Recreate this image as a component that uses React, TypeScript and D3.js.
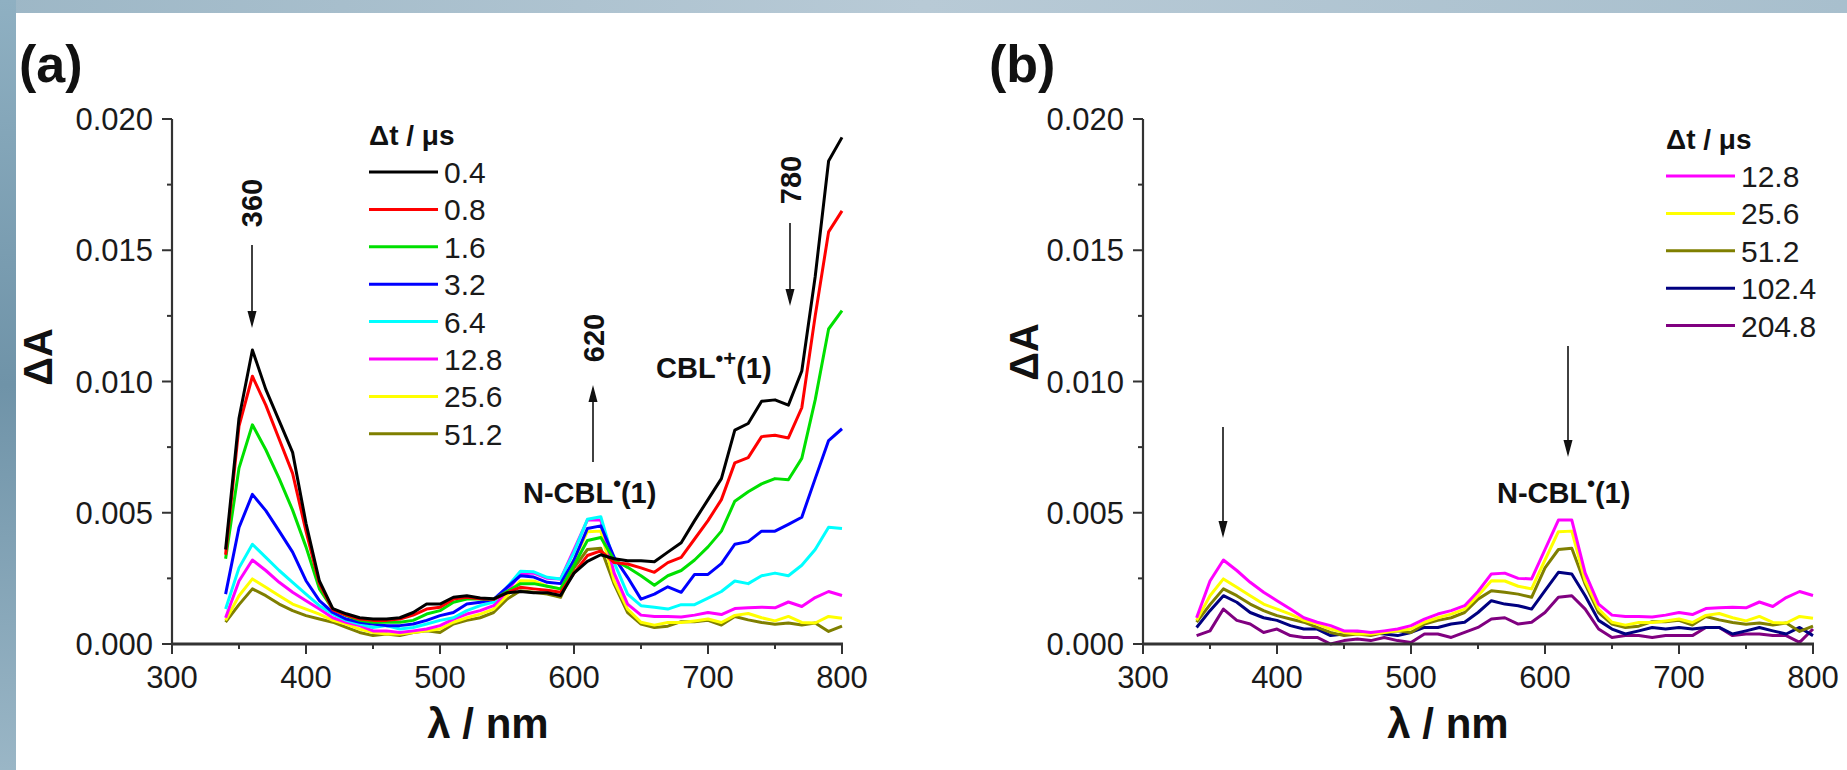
import React from "react";
import * as d3 from "d3";

// ---------- data (ΔA in units of 0.001) ----------
const wavelengths = [340, 350, 360, 370, 380, 390, 400, 410, 420, 430, 440, 450, 460, 470, 480, 490, 500, 510, 520, 530, 540, 550, 560, 570, 580, 590, 600, 610, 620, 630, 640, 650, 660, 670, 680, 690, 700, 710, 720, 730, 740, 750, 760, 770, 780, 790, 800];

const s0_4 = [3.6, 8.6, 11.2, 9.7, 8.5, 7.3, 4.6, 2.4, 1.35, 1.15, 1.0, 0.95, 0.95, 1.0, 1.2, 1.52, 1.52, 1.78, 1.84, 1.75, 1.72, 1.95, 2.0, 1.95, 1.95, 1.85, 2.7, 3.15, 3.4, 3.25, 3.17, 3.17, 3.13, 3.5, 3.86, 4.7, 5.5, 6.3, 8.15, 8.4, 9.25, 9.3, 9.1, 10.4, 14.0, 18.4, 19.3];
const s0_8 = [3.4, 8.3, 10.2, 9.1, 7.8, 6.5, 4.3, 2.3, 1.3, 1.1, 0.95, 0.9, 0.9, 0.95, 1.1, 1.33, 1.4, 1.71, 1.78, 1.72, 1.7, 1.95, 2.16, 2.1, 2.05, 1.97, 2.7, 3.37, 3.55, 3.1, 3.05, 2.9, 2.73, 3.1, 3.3, 4.0, 4.7, 5.5, 6.9, 7.1, 7.9, 7.95, 7.85, 9.0, 12.5, 15.7, 16.5];
const s1_6 = [3.25, 6.7, 8.35, 7.4, 6.3, 5.1, 3.7, 2.1, 1.33, 1.08, 0.9, 0.83, 0.83, 0.83, 0.9, 1.14, 1.27, 1.59, 1.71, 1.71, 1.7, 2.0, 2.3, 2.3, 2.2, 2.1, 3.0, 3.94, 4.06, 3.2, 2.92, 2.6, 2.24, 2.6, 2.8, 3.2, 3.7, 4.3, 5.44, 5.8, 6.1, 6.3, 6.26, 7.07, 9.3, 12.0, 12.7];
const s3_2 = [1.9, 4.44, 5.7, 5.08, 4.3, 3.5, 2.41, 1.65, 1.2, 0.95, 0.83, 0.76, 0.7, 0.7, 0.76, 0.9, 1.08, 1.2, 1.52, 1.59, 1.7, 2.16, 2.6, 2.55, 2.35, 2.3, 3.2, 4.4, 4.5, 3.3, 2.54, 1.71, 1.9, 2.18, 1.97, 2.65, 2.65, 3.06, 3.8, 3.9, 4.3, 4.3, 4.56, 4.83, 6.3, 7.75, 8.2];
const s6_4 = [1.33, 2.9, 3.8, 3.3, 2.8, 2.35, 1.9, 1.46, 1.14, 0.9, 0.76, 0.63, 0.7, 0.57, 0.63, 0.76, 0.9, 1.0, 1.27, 1.46, 1.6, 2.16, 2.77, 2.75, 2.54, 2.48, 3.5, 4.75, 4.85, 3.1, 1.9, 1.46, 1.4, 1.33, 1.5, 1.5, 1.75, 2.0, 2.4, 2.3, 2.6, 2.7, 2.6, 3.0, 3.6, 4.45, 4.4];
const s12_8 = [1.0, 2.4, 3.2, 2.8, 2.35, 1.97, 1.65, 1.33, 1.0, 0.83, 0.7, 0.5, 0.5, 0.44, 0.5, 0.57, 0.7, 0.95, 1.14, 1.27, 1.46, 2.0, 2.67, 2.7, 2.5, 2.48, 3.6, 4.72, 4.72, 2.7, 1.52, 1.1, 1.05, 1.05, 1.03, 1.1, 1.2, 1.12, 1.35, 1.38, 1.4, 1.38, 1.6, 1.43, 1.77, 2.0, 1.85];
const s25_6 = [0.9, 1.84, 2.48, 2.16, 1.84, 1.52, 1.33, 1.14, 0.9, 0.76, 0.57, 0.44, 0.38, 0.38, 0.44, 0.5, 0.57, 0.83, 1.0, 1.14, 1.33, 1.84, 2.41, 2.4, 2.2, 2.1, 3.2, 4.28, 4.3, 2.4, 1.33, 0.83, 0.72, 0.82, 0.82, 0.88, 0.95, 0.82, 1.09, 1.16, 1.0, 0.88, 1.05, 0.82, 0.8, 1.05, 0.98];
const s51_2 = [0.83, 1.5, 2.1, 1.84, 1.52, 1.27, 1.08, 0.95, 0.83, 0.63, 0.44, 0.32, 0.38, 0.32, 0.44, 0.5, 0.44, 0.76, 0.9, 1.0, 1.2, 1.71, 2.03, 1.97, 1.9, 1.78, 2.9, 3.6, 3.65, 2.28, 1.2, 0.76, 0.63, 0.68, 0.85, 0.85, 0.9, 0.72, 1.05, 0.92, 0.82, 0.75, 0.8, 0.72, 0.8, 0.48, 0.68];
const s102_4 = [0.63, 1.27, 1.84, 1.59, 1.2, 1.0, 0.9, 0.7, 0.57, 0.57, 0.32, 0.38, 0.44, 0.44, 0.38, 0.32, 0.44, 0.63, 0.63, 0.76, 0.83, 1.2, 1.65, 1.52, 1.46, 1.33, 2.03, 2.73, 2.67, 1.84, 0.9, 0.57, 0.38, 0.5, 0.63, 0.57, 0.63, 0.57, 0.63, 0.63, 0.38, 0.5, 0.63, 0.5, 0.38, 0.63, 0.32];
const s204_8 = [0.32, 0.5, 1.33, 0.9, 0.76, 0.44, 0.57, 0.32, 0.25, 0.25, 0.0, 0.13, 0.19, 0.13, 0.25, 0.13, 0.06, 0.38, 0.38, 0.25, 0.44, 0.63, 0.95, 1.0, 0.76, 0.83, 1.2, 1.78, 1.84, 1.33, 0.57, 0.25, 0.32, 0.32, 0.25, 0.32, 0.32, 0.32, 0.63, 0.63, 0.32, 0.38, 0.38, 0.32, 0.32, 0.06, 0.57];

const labelsA = ["0.4", "0.8", "1.6", "3.2", "6.4", "12.8", "25.6", "51.2"];
const colorsA = ["#000000", "#ff0000", "#00e000", "#0000ff", "#00ffff", "#ff00ff", "#ffff00", "#7f7f00"];
const seriesA = [s0_4, s0_8, s1_6, s3_2, s6_4, s12_8, s25_6, s51_2];

const labelsB = ["12.8", "25.6", "51.2", "102.4", "204.8"];
const colorsB = ["#ff00ff", "#ffff00", "#7f7f00", "#000080", "#800080"];
const seriesB = [s12_8, s25_6, s51_2, s102_4, s204_8];

const yMajor = [0, 0.005, 0.01, 0.015, 0.02];
const yMinor = [0.0025, 0.0075, 0.0125, 0.0175];
const xMajor = [300, 400, 500, 600, 700, 800];
const xMinor = [350, 450, 550, 650, 750];

const FONT = "'Liberation Sans', Arial, Helvetica, sans-serif";
const AXIS = "#333333";
const TXT = "#1a1a1a";

function Arrow({ x, y1, y2 }: { x: number; y1: number; y2: number }) {
  // y1 = tail, y2 = tip
  const dir = y2 > y1 ? 1 : -1;
  const head = 17;
  const hw = 4.5;
  return (
    <g>
      <line x1={x} y1={y1} x2={x} y2={y2 - dir * head + dir * 2} stroke="#111" strokeWidth={1.6} />
      <path d={`M${x},${y2} L${x - hw},${y2 - dir * head} L${x + hw},${y2 - dir * head} Z`} fill="#111" />
    </g>
  );
}

function Radical({ x, y, base, sup }: { x: number; y: number; base: string; sup: string }) {
  return (
    <text x={x} y={y} fontSize={29}>
      {base}
      <tspan dy={-12} fontSize={22}>{sup}</tspan>
      <tspan dy={12} fontSize={29}>(1)</tspan>
    </text>
  );
}

function Panel({
  x0, x1, series, colors, labels, legendX, legendY, legendTitleY, titleX, label, yTitleX, yTitleY, xTitleX,
  children,
}: any) {
  const x = d3.scaleLinear().domain([300, 800]).range([x0, x1]);
  const y = d3.scaleLinear().domain([0, 0.02]).range([644, 119]);
  const line = d3
    .line<number>()
    .x((_, i) => x(wavelengths[i]))
    .y((d) => y(d * 0.001));
  return (
    <g fontFamily={FONT}>
      {/* data */}
      {series.map((s: number[], i: number) => (
        <path key={i} d={line(s) || ""} fill="none" stroke={colors[i]} strokeWidth={3} strokeLinejoin="round" />
      )).reverse()}
      {/* axes */}
      <line x1={x0} y1={y(0.02)} x2={x0} y2={y(0) + 1} stroke={AXIS} strokeWidth={2.2} />
      <line x1={x0 - 1} y1={y(0)} x2={x1 + 1} y2={y(0)} stroke={AXIS} strokeWidth={3} />
      {yMajor.map((v) => (
        <g key={v}>
          <line x1={x0 - 10} x2={x0} y1={y(v)} y2={y(v)} stroke={AXIS} strokeWidth={2} />
          <text x={x0 - 19} y={y(v) + 11} textAnchor="end" fontSize={31} fill={TXT}>
            {v.toFixed(3)}
          </text>
        </g>
      ))}
      {yMinor.map((v) => (
        <line key={v} x1={x0 - 5} x2={x0} y1={y(v)} y2={y(v)} stroke={AXIS} strokeWidth={2} />
      ))}
      {xMajor.map((v) => (
        <g key={v}>
          <line x1={x(v)} x2={x(v)} y1={y(0)} y2={y(0) + 10} stroke={AXIS} strokeWidth={2} />
          <text x={x(v)} y={688} textAnchor="middle" fontSize={31} fill={TXT}>
            {v}
          </text>
        </g>
      ))}
      {xMinor.map((v) => (
        <line key={v} x1={x(v)} x2={x(v)} y1={y(0)} y2={y(0) + 5} stroke={AXIS} strokeWidth={2} />
      ))}
      {/* titles */}
      <text x={titleX} y={82} fontSize={52} fontWeight="bold" fill="#111">{label}</text>
      <text
        transform={`translate(${yTitleX},${yTitleY}) rotate(-90)`}
        textAnchor="middle"
        fontSize={40}
        fontWeight="bold"
        fill="#111"
      >
        ΔA
      </text>
      <text x={xTitleX} y={738} textAnchor="middle" fontSize={42} fontWeight="bold" fill="#111">
        λ / nm
      </text>
      {/* legend */}
      <text x={legendX} y={legendTitleY} fontSize={28} fontWeight="bold" fill="#111">
        Δt / μs
      </text>
      {labels.map((l: string, i: number) => (
        <g key={l}>
          <line x1={legendX} x2={legendX + 69} y1={legendY + i * 37.4} y2={legendY + i * 37.4} stroke={colors[i]} strokeWidth={3} />
          <text x={legendX + 75} y={legendY + i * 37.4 + 11} fontSize={30} fill={TXT}>
            {l}
          </text>
        </g>
      ))}
      {children}
    </g>
  );
}

export default function App() {
  return (
    <svg width={1847} height={770} style={{ position: "absolute", left: 0, top: 0 }}>
      <defs>
        <linearGradient id="bgTop" x1="0" y1="0" x2="1" y2="0">
          <stop offset="0" stopColor="#9db7c6" />
          <stop offset="0.5" stopColor="#b8cad6" />
          <stop offset="1" stopColor="#a8bfcd" />
        </linearGradient>
        <linearGradient id="bgLeft" x1="0" y1="0" x2="0" y2="1">
          <stop offset="0" stopColor="#8fb0c2" />
          <stop offset="0.5" stopColor="#6f93a8" />
          <stop offset="1" stopColor="#9ab6c6" />
        </linearGradient>
      </defs>
      <rect x={0} y={0} width={1847} height={770} fill="url(#bgTop)" />
      <rect x={0} y={0} width={16} height={770} fill="url(#bgLeft)" />
      <rect x={16} y={13} width={1831} height={757} fill="#ffffff" />
      <Panel
        x0={172} x1={842}
        series={seriesA} colors={colorsA} labels={labelsA}
        legendX={369} legendY={172} legendTitleY={145}
        titleX={19} label="(a)" yTitleX={52} yTitleY={357} xTitleX={488}
      >
        <g fontFamily={FONT} fontWeight="bold" fill="#111">
          <text transform="translate(262,203) rotate(-90)" textAnchor="middle" fontSize={29}>360</text>
          <Arrow x={252} y1={245} y2={328} />
          <text transform="translate(604,338) rotate(-90)" textAnchor="middle" fontSize={29}>620</text>
          <Arrow x={593} y1={462} y2={385} />
          <Radical x={523} y={503} base="N-CBL" sup="•" />
          <Radical x={656} y={378} base="CBL" sup="•+" />
          <text transform="translate(801,180) rotate(-90)" textAnchor="middle" fontSize={29}>780</text>
          <Arrow x={790} y1={223} y2={306} />
        </g>
      </Panel>
      <Panel
        x0={1143} x1={1813}
        series={seriesB} colors={colorsB} labels={labelsB}
        legendX={1666} legendY={176} legendTitleY={149}
        titleX={989} label="(b)" yTitleX={1038} yTitleY={352} xTitleX={1448}
      >
        <g fontFamily={FONT} fontWeight="bold" fill="#111">
          <Arrow x={1223} y1={427} y2={538} />
          <Arrow x={1568} y1={346} y2={457} />
          <Radical x={1497} y={503} base="N-CBL" sup="•" />
        </g>
      </Panel>
    </svg>
  );
}
